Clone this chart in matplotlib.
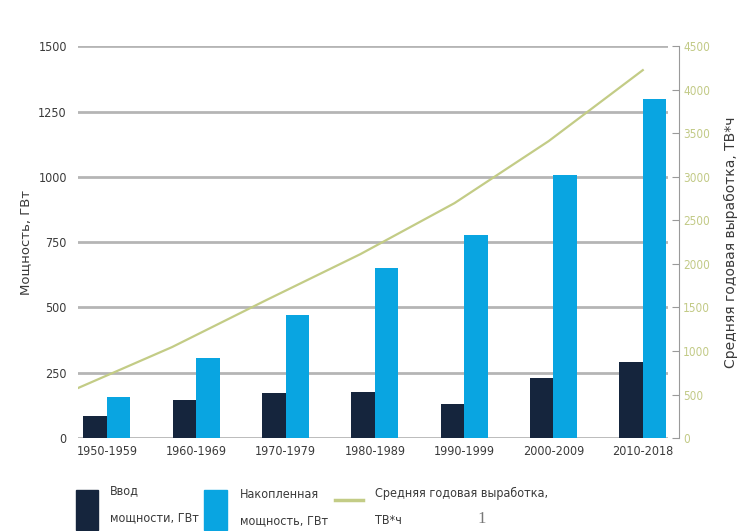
import numpy as np
import matplotlib
matplotlib.use('Agg')
import matplotlib.pyplot as plt
from matplotlib.patches import Rectangle
from matplotlib.lines import Line2D

# данные
periods = ['1950-1959', '1960-1969', '1970-1979', '1980-1989',
           '1990-1999', '2000-2009', '2010-2018']
added = [84, 145, 172, 176, 130, 230, 291]             # Ввод мощности, ГВт
cumulative = [157, 306, 471, 651, 777, 1006, 1297]     # Накопленная мощность, ГВт
generation = [574, 1045, 1584, 2112, 2698, 3410, 4225]  # ТВт*ч

dark = '#15253d'
light = '#09a5e1'
olive = '#c3cc86'
grid_c = '#b5b5b5'
txt = '#3a3a3a'

plt.rcParams['font.family'] = ['DejaVu Sans']
plt.rcParams['font.stretch'] = 'condensed'

fig = plt.figure(figsize=(7.42, 5.31), dpi=100)
ax = fig.add_axes([0.105, 0.175, 0.795, 0.738])

x = np.arange(len(periods))
w = 0.263
x0, x1 = -0.325, 6.28
ax.bar(x - w / 2, added, w, color=dark, zorder=3)
ax.bar(x + w / 2, cumulative, w, color=light, zorder=3)

ax.set_xlim(x0, x1)
ax.set_ylim(0, 1500)
ax.set_yticks([0, 250, 500, 750, 1000, 1250, 1500])
ax.grid(axis='y', color=grid_c, linewidth=2, zorder=0)
ax.set_xticks(x)
ax.set_xticklabels(periods)
ax.tick_params(axis='both', length=0, labelsize=9, colors=txt)
ax.tick_params(axis='x', pad=5)
ax.tick_params(axis='y', pad=8)
for s in ax.spines.values():
    s.set_visible(False)
ax.set_ylabel('Мощность, ГВт', fontsize=9.5, color=txt, stretch='normal', labelpad=4)

# правая ось выработки
ax2 = ax.twinx()
ax2.set_ylim(0, 4500)
ax2.set_yticks(np.arange(0, 4501, 500))
for k, s in ax2.spines.items():
    s.set_visible(k == 'right')
ax2.spines['right'].set_position(('outward', 8))
ax2.spines['right'].set_color('#9a9a9a')
ax2.tick_params(axis='y', direction='in', length=5, color='#9a9a9a',
                labelsize=8.5, labelcolor='#c2ca86', pad=3)
ax2.set_ylabel('Средняя годовая выработка, ТВ*ч', fontsize=10, color=txt,
               stretch='normal', labelpad=10)

# линия идёт от левого края до центра последней группы
ax3 = ax2.twiny()
lx = np.arange(len(generation))
ax3.set_xlim(0, 6 * (x1 - x0) / (6 - x0))
ax3.axis('off')
ax3.plot(lx, generation, color=olive, linewidth=1.6, zorder=4)

# легенда
fig.add_artist(Rectangle((76 / 742, 1 - 530 / 531), 22 / 742, 40 / 531,
                         transform=fig.transFigure, color=dark))
fig.text(110 / 742, 1 - 491 / 531, 'Ввод', fontsize=9, color=txt, va='center')
fig.text(110 / 742, 1 - 518 / 531, 'мощности, ГВт', fontsize=9, color=txt, va='center')
fig.add_artist(Rectangle((204 / 742, 1 - 530 / 531), 23 / 742, 40 / 531,
                         transform=fig.transFigure, color=light))
fig.text(240 / 742, 1 - 495 / 531, 'Накопленная', fontsize=9, color=txt, va='center')
fig.text(240 / 742, 1 - 521 / 531, 'мощность, ГВт', fontsize=9, color=txt, va='center')
fig.add_artist(Line2D([335 / 742, 363 / 742], [1 - 500 / 531] * 2,
                      transform=fig.transFigure, color=olive, linewidth=2.5))
fig.text(375 / 742, 1 - 493 / 531, 'Средняя годовая выработка,', fontsize=9,
         color=txt, va='center')
fig.text(375 / 742, 1 - 520 / 531, 'ТВ*ч', fontsize=9, color=txt, va='center')
fig.text(477 / 742, 1 - 519 / 531, '1', fontsize=12, color='#777777',
         family=['Liberation Serif'], va='center')

fig.savefig('out.png', dpi=100)
